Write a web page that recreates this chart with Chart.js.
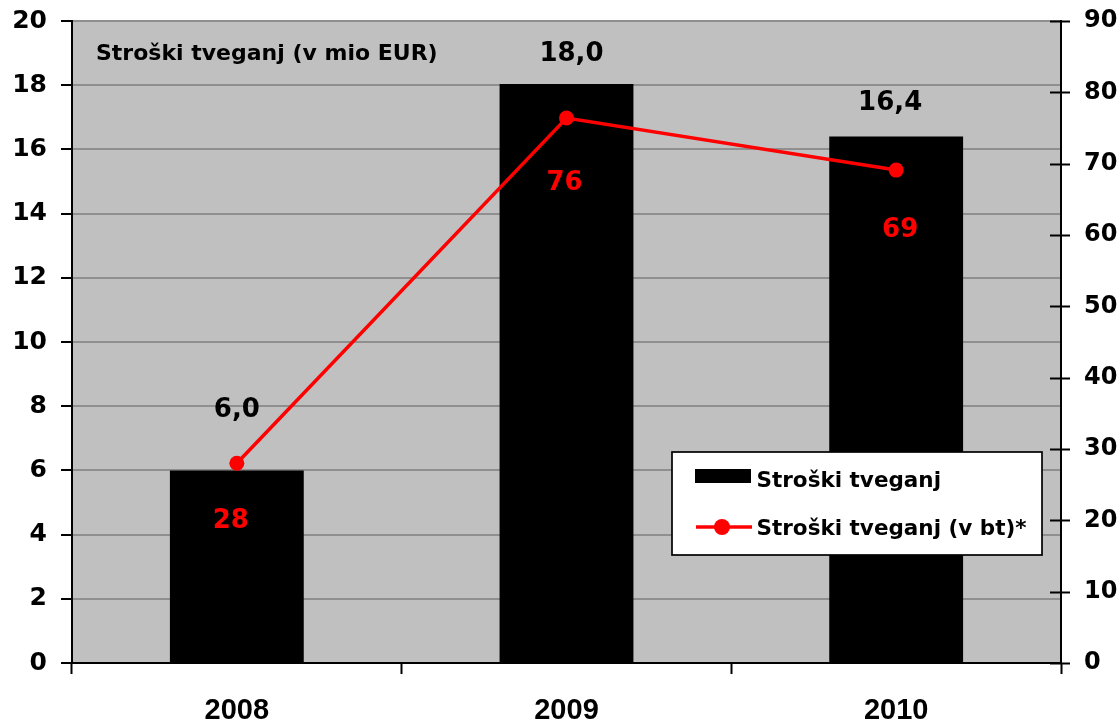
<!DOCTYPE html>
<html lang="sl">
<head>
    <meta charset="UTF-8">
    <title>Stroški tveganj</title>
    <script src="https://cdn.jsdelivr.net/npm/chart.js"></script>
    <style>
        body {
            margin: 0;
            background: #ffffff;
        }
        .wrap {
            width: 1120px;
            height: 725px;
        }
    </style>
</head>
<body>
    <div class="wrap">
        <canvas id="riskChart" width="1120" height="725"></canvas>
    </div>

    <script>
        // Data
        const years = ['2008', '2009', '2010'];
        const costsMio = [6.0, 18.04, 16.4];      // Stroški tveganj (v mio EUR), left axis
        const costsBp = [28.0, 76.4, 69.1];       // Stroški tveganj (v bt)*, right axis
        const leftTicks = [0, 2, 4, 6, 8, 10, 12, 14, 16, 18, 20];
        const rightTicks = [0, 10, 20, 30, 40, 50, 60, 70, 80, 90];

        const seriesNames = ['Stroški tveganj', 'Stroški tveganj (v bt)*'];
        const chartTitle = 'Stroški tveganj (v mio EUR)';

        const wide = 'DejaVu Sans';
        const narrow = 'Liberation Sans';

        // background + plot fill
        const backdrop = {
            id: 'backdrop',
            beforeDraw(chart) {
                const { ctx, chartArea: a } = chart;
                ctx.save();
                ctx.fillStyle = '#ffffff';
                ctx.fillRect(0, 0, chart.width, chart.height);
                ctx.fillStyle = '#c0c0c0';
                ctx.fillRect(a.left, a.top, a.right - a.left, a.bottom - a.top);
                ctx.restore();
            }
        };

        // value labels, title, right axis ticks crossing the line, legend box
        const extras = {
            id: 'extras',
            afterDatasetsDraw(chart) {
                const ctx = chart.ctx;
                const bars = chart.getDatasetMeta(0).data;
                const pts = chart.getDatasetMeta(1).data;
                const lift = [53, 23, 27];
                const barShift = [0, 5, -6];
                const drop = [65, 72, 67];
                const ptShift = [-6, -2, 4];

                ctx.save();
                ctx.textAlign = 'center';
                ctx.textBaseline = 'alphabetic';
                ctx.font = 'bold 26px "' + wide + '"';
                ctx.fillStyle = '#000';
                bars.forEach((b, i) => {
                    ctx.fillText(costsMio[i].toFixed(1).replace('.', ','), b.x + barShift[i], b.y - lift[i]);
                });
                ctx.fillStyle = '#ff0000';
                pts.forEach((p, i) => {
                    ctx.fillText(String(Math.round(costsBp[i])), p.x + ptShift[i], p.y + drop[i]);
                });

                // title inside the plot
                ctx.textAlign = 'left';
                ctx.fillStyle = '#000';
                ctx.font = 'bold 22px "' + wide + '"';
                ctx.fillText(chartTitle, chart.chartArea.left + 24, 59.5);
                ctx.restore();
            },
            afterDraw(chart) {
                const ctx = chart.ctx;
                const y1 = chart.scales.y1;
                ctx.save();
                ctx.strokeStyle = '#000';
                ctx.lineWidth = 2;
                rightTicks.forEach(v => {
                    const y = Math.round(y1.getPixelForValue(v)) + 0.5;
                    ctx.beginPath();
                    ctx.moveTo(y1.left - 11, y);
                    ctx.lineTo(y1.left + 9, y);
                    ctx.stroke();
                });

                // legend
                const lx = 672, ly = 452, lw = 370, lh = 103;
                ctx.fillStyle = '#ffffff';
                ctx.fillRect(lx, ly, lw, lh);
                ctx.lineWidth = 1.7;
                ctx.strokeStyle = '#000';
                ctx.strokeRect(lx, ly, lw, lh);

                ctx.fillStyle = '#000';
                ctx.fillRect(695, 469, 56, 14);

                ctx.strokeStyle = '#ff0000';
                ctx.lineWidth = 3.5;
                ctx.beginPath();
                ctx.moveTo(696, 527);
                ctx.lineTo(752, 527);
                ctx.stroke();
                ctx.fillStyle = '#ff0000';
                ctx.beginPath();
                ctx.arc(722, 527, 8, 0, Math.PI * 2);
                ctx.fill();

                ctx.fillStyle = '#000';
                ctx.font = 'bold 21.5px "' + wide + '"';
                ctx.textAlign = 'left';
                ctx.textBaseline = 'alphabetic';
                ctx.fillText(seriesNames[0], 756.5, 486.5);
                ctx.fillText(seriesNames[1], 756.5, 535);
                ctx.restore();
            }
        };

        // fixed axis sizes, no extra label padding above/below the plot
        function fitVertical(width) {
            return s => {
                s.width = width;
                s.paddingTop = 0;
                s.paddingBottom = 0;
            };
        }

        const riskChart = new Chart(document.getElementById('riskChart'), {
            data: {
                labels: years,
                datasets: [
                    {
                        type: 'bar',
                        label: seriesNames[0],
                        data: costsMio,
                        yAxisID: 'y',
                        backgroundColor: '#000000',
                        barPercentage: 0.406,
                        categoryPercentage: 1,
                        order: 2
                    },
                    {
                        type: 'line',
                        label: seriesNames[1],
                        data: costsBp,
                        yAxisID: 'y1',
                        borderColor: '#ff0000',
                        backgroundColor: '#ff0000',
                        borderWidth: 3.5,
                        pointRadius: 7.5,
                        pointBorderWidth: 0,
                        tension: 0,
                        order: 1
                    }
                ]
            },
            options: {
                responsive: false,
                animation: false,
                layout: { padding: { top: 21, left: 0, right: 0, bottom: 0 } },
                plugins: {
                    legend: { display: false },
                    tooltip: { enabled: false }
                },
                scales: {
                    x: {
                        offset: true,
                        grid: {
                            offset: true,
                            drawOnChartArea: false,
                            tickLength: 11,
                            tickColor: '#000',
                            tickWidth: 2
                        },
                        border: { color: '#000', width: 2 },
                        ticks: {
                            color: '#000',
                            padding: 20,
                            font: { family: narrow, weight: 'bold', size: 29 }
                        },
                        afterFit: s => { s.height = 62; }
                    },
                    y: {
                        position: 'left',
                        min: leftTicks[0],
                        max: leftTicks[leftTicks.length - 1],
                        afterBuildTicks: s => { s.ticks = leftTicks.map(v => ({ value: v })); },
                        grid: {
                            color: c => (c.tick && c.tick.value === 0 ? 'rgba(0,0,0,0)' : '#8f8f8f'),
                            lineWidth: 2,
                            tickColor: '#000',
                            tickLength: 11,
                            tickWidth: 2
                        },
                        border: { color: '#000', width: 2 },
                        ticks: {
                            color: '#000',
                            padding: 14,
                            font: { family: wide, weight: 'bold', size: 25 }
                        },
                        afterFit: fitVertical(72)
                    },
                    y1: {
                        position: 'right',
                        min: rightTicks[0],
                        max: rightTicks[rightTicks.length - 1],
                        afterBuildTicks: s => { s.ticks = rightTicks.map(v => ({ value: v })); },
                        grid: { drawOnChartArea: false, drawTicks: false },
                        border: { color: '#000', width: 2 },
                        ticks: {
                            color: '#000',
                            padding: 23,
                            font: { family: wide, weight: 'bold', size: 24 }
                        },
                        afterFit: fitVertical(59)
                    }
                }
            },
            plugins: [backdrop, extras]
        });
    </script>
</body>
</html>
